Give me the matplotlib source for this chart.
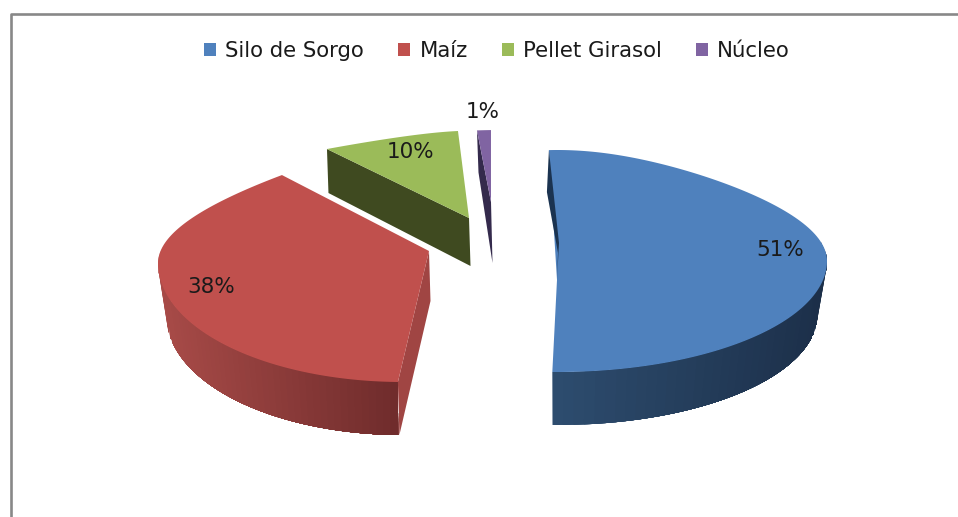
import numpy as np
import matplotlib
matplotlib.use('Agg')
import matplotlib.pyplot as plt
from matplotlib.patches import Patch, Polygon

plt.rcParams['font.family'] = ['DejaVu Sans']

# Chart data
categories = ['Silo de Sorgo', 'Maíz', 'Pellet Girasol', 'Núcleo']
values = [51, 38, 10, 1]

# Slice colours: top face, inner face, gradient of the rim (left to right)
top_colors = ['#4F81BD', '#C0504D', '#9BBB59', '#8064A2']
inner_colors = ['#1B3350', '#A04543', '#3F4A20', '#342A4C']
rim_left = ['#2D4C6E', '#A84B48', '#3F4A20', '#342A4C']
rim_right = ['#1C2F49', '#6E2B2B', '#3F4A20', '#342A4C']

# Every slice is exploded on its own ellipse (pixels of the original picture)
centers_x = [557.5, 402.6, 474.7, 500.6]
centers_y = [261, 263.2, 202, 202]
radii_x = [269.5, 244.6, 299.5, 423]
radii_y = [111, 118.8, 71.4, 72]
far_squeeze = [0.27, 0.48, 0.48, 0.48]   # the far half of the pie looks narrower
apex_shift = [(-0.5, 19), (26.4, -12.2), (-5.7, 16), (-9.6, 0)]
depth_rim = [53, 53, 44, 42]
depth_outer = [42, 53, 44, 42]
depth_apex = [0, 50, 48, 61]
label_pos = [(780, 250), (211, 287), (411, 152), (483, 112)]

START_ANGLE = -2.5
BOTTOM_SCALE = 0.965


def rim_point(i, theta):
    t = np.radians(theta)
    k = 1 - far_squeeze[i] * np.maximum(np.cos(t), 0) ** 2
    x = centers_x[i] + radii_x[i] * np.sin(t) * k
    y = centers_y[i] - radii_y[i] * np.cos(t)
    return x, y


def bottom_point(i, theta):
    x, y = rim_point(i, theta)
    return centers_x[i] + (x - centers_x[i]) * BOTTOM_SCALE, y + depth_rim[i]


def mix(c1, c2, f):
    a = np.array(matplotlib.colors.to_rgb(c1))
    b = np.array(matplotlib.colors.to_rgb(c2))
    return a + (b - a) * f


fig = plt.figure(figsize=(9.58, 5.17), dpi=100)
ax = fig.add_axes([0, 0, 1, 1])
ax.set_xlim(0, 958)
ax.set_ylim(517, 0)
ax.axis('off')

# Chart frame, open at the right and at the bottom
ax.plot([11.3, 11.3, 958], [517, 14.3, 14.3], color='#888888', lw=1.9)

# Slice angles come from the values, clockwise from the top
edges = START_ANGLE + np.cumsum([0] + values) * 3.6

for i in [2, 3, 0, 1]:
    start, end = edges[i], edges[i + 1]
    theta = np.linspace(start, end, 160)
    xs, ys = rim_point(i, theta)
    ax_, ay_ = centers_x[i] + apex_shift[i][0], centers_y[i] + apex_shift[i][1]

    # Rim of the part that looks at the viewer, painted left to right with overlap so no seams show
    front = theta[(theta > 80) & (theta < 280)]
    if len(front) > 1:
        xb, yb = rim_point(i, front)
        xc, yc = bottom_point(i, front)
        order = np.argsort(xb)
        xb, yb, xc, yc = xb[order], yb[order], xc[order], yc[order]
        for j in range(0, len(front) - 1, 2):
            f = (xb[j] - xb[0]) / (xb[-1] - xb[0])
            poly = np.vstack([np.column_stack([xb[j:], yb[j:]]), np.column_stack([xc[j:], yc[j:]])[::-1]])
            ax.add_patch(Polygon(poly, closed=True, fc=mix(rim_left[i], rim_right[i], f), ec='none'))

    # Inner face along the first edge of the slice
    sx, sy = rim_point(i, start)
    if i != 0:
        ax.add_patch(Polygon([(sx, sy), (sx + 1.5, sy + depth_outer[i]), (ax_ + 1.5, ay_ + depth_apex[i]), (ax_, ay_)],
                             closed=True, fc=inner_colors[i], ec='none', zorder=2))

    # Top face
    ax.add_patch(Polygon(np.vstack([np.column_stack([xs, ys]), [(ax_, ay_)]]), closed=True,
                         fc=top_colors[i], ec='none', zorder=3))

    # The thin dark face of the blue slice sits over its top face
    if i == 0:
        ax.add_patch(Polygon([(sx, sy), (sx - 2, sy + depth_outer[i]), (ax_ + 1, ay_ - 27), (ax_, ay_),
                              (ax_ + 2, ay_ - 37)],
                             closed=True, fc=inner_colors[i], ec='none', zorder=4))

# Percent labels
for v, (lx, ly) in zip(values, label_pos):
    ax.text(lx, ly, f'{v}%', ha='center', va='center', fontsize=15.5, color='#1a1a1a', zorder=5)

# Legend
handles = [Patch(fc=c, ec='none') for c in top_colors]
ax.legend(handles, categories, loc='center', bbox_to_anchor=(497 / 958, 1 - 51 / 517), ncol=4,
          frameon=False, fontsize=15.3, handlelength=0.57, handleheight=0.57, handletextpad=0.43,
          columnspacing=1.6, labelcolor='#1a1a1a')

fig.savefig('out.png', dpi=100)
